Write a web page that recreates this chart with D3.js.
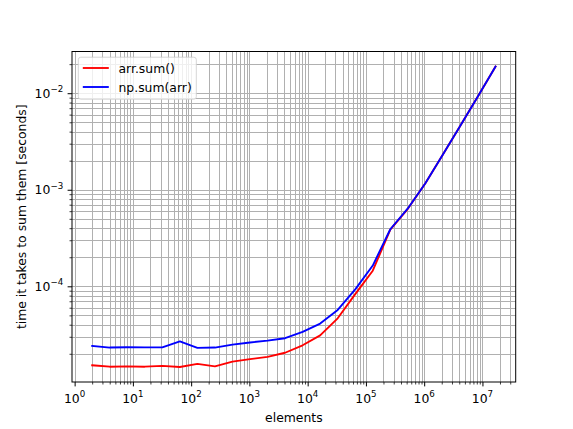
<!DOCTYPE html>
<html>
<head>
<meta charset="utf-8">
<script src="https://cdn.jsdelivr.net/npm/d3@7"></script>
<style>
  html, body { margin: 0; padding: 0; background: #fff; }
  svg { display: block; font-family: "DejaVu Sans", sans-serif; }
</style>
</head>
<body>
<svg id="chart" width="573" height="429"></svg>
<script>
// ---- data ----
const elements = [2, 4, 8, 16, 32, 64, 128, 256, 512, 1024, 2048, 4096, 8192, 16384,
  32768, 65536, 131072, 262144, 524288, 1048576, 2097152, 4194304, 8388608, 16777216];
const arrSum = [1.52e-5, 1.47e-5, 1.48e-5, 1.47e-5, 1.50e-5, 1.46e-5, 1.57e-5, 1.48e-5,
  1.66e-5, 1.76e-5, 1.86e-5, 2.05e-5, 2.45e-5, 3.10e-5, 4.66e-5, 8.3e-5, 1.45e-4,
  3.86e-4, 6.35e-4, 1.17e-3, 2.32e-3, 4.62e-3, 9.3e-3, 1.89e-2];
const npSum = [2.41e-5, 2.32e-5, 2.34e-5, 2.33e-5, 2.33e-5, 2.69e-5, 2.30e-5, 2.32e-5,
  2.49e-5, 2.62e-5, 2.74e-5, 2.90e-5, 3.37e-5, 4.11e-5, 5.69e-5, 9.3e-5, 1.64e-4,
  3.90e-4, 6.40e-4, 1.17e-3, 2.32e-3, 4.62e-3, 9.3e-3, 1.89e-2];
const seriesNames = ["arr.sum()", "np.sum(arr)"];
const seriesColors = ["#ff0000", "#0000ff"];
const xMajorExps = [0, 1, 2, 3, 4, 5, 6, 7];
const yMajorExps = [-4, -3, -2];
const xLabel = "elements";
const yLabel = "time it takes to sum them [seconds]";

// ---- layout ----
const W = 573, H = 429;
const m = { left: 72, right: 515.7, top: 51.5, bottom: 382 };
const fs = 12.4;
const svg = d3.select("#chart");

// log-space 5% margins (matplotlib autoscale)
function logDomain(vals) {
  const lo = Math.log10(d3.min(vals)), hi = Math.log10(d3.max(vals));
  const pad = (hi - lo) * 0.05;
  return [Math.pow(10, lo - pad), Math.pow(10, hi + pad)];
}
const x = d3.scaleLog().domain(logDomain(elements)).range([m.left, m.right]);
const y = d3.scaleLog().domain(logDomain(arrSum.concat(npSum))).range([m.bottom, m.top]);

function minorValues(scale) {
  const [a, b] = scale.domain();
  const out = [];
  for (let e = Math.floor(Math.log10(a)) - 1; e <= Math.ceil(Math.log10(b)); e++) {
    for (let k = 2; k <= 9; k++) {
      const v = k * Math.pow(10, e);
      if (v >= a && v <= b) out.push(v);
    }
  }
  return out;
}
const xMajor = xMajorExps.map(e => Math.pow(10, e));
const yMajor = yMajorExps.map(e => Math.pow(10, e));
const xMinor = minorValues(x), yMinor = minorValues(y);

const snap = v => Math.round(v) + 0.5;

// ---- grid ----
const grid = svg.append("g").attr("stroke", "#b0b0b0").attr("stroke-width", 1);
xMajor.concat(xMinor).forEach(v => {
  grid.append("line").attr("x1", snap(x(v))).attr("x2", snap(x(v)))
    .attr("y1", m.top).attr("y2", m.bottom);
});
yMajor.concat(yMinor).forEach(v => {
  grid.append("line").attr("y1", snap(y(v))).attr("y2", snap(y(v)))
    .attr("x1", m.left).attr("x2", m.right);
});

// ---- lines ----
const series = [arrSum, npSum];
series.forEach((vals, i) => {
  const line = d3.line().x((d, j) => x(elements[j])).y(d => y(d));
  svg.append("path").datum(vals)
    .attr("d", line)
    .attr("fill", "none")
    .attr("stroke", seriesColors[i])
    .attr("stroke-width", 1.87)
    .attr("stroke-linejoin", "round")
    .attr("stroke-linecap", "square");
});

// ---- axes ----
const xAxis = svg.append("g").attr("transform", `translate(0,${m.bottom})`);
xAxis.call(d3.axisBottom(x).tickValues(xMajor).tickSize(4.4).tickSizeOuter(0).tickPadding(4.4).tickFormat(""));
const xAxisMinor = svg.append("g").attr("transform", `translate(0,${m.bottom})`);
xAxisMinor.call(d3.axisBottom(x).tickValues(xMinor).tickSize(2.5).tickSizeOuter(0).tickFormat(""));
xAxisMinor.select(".domain").remove();
xAxisMinor.selectAll("line").attr("stroke-width", 0.75);

const yAxis = svg.append("g").attr("transform", `translate(${m.left},0)`);
yAxis.call(d3.axisLeft(y).tickValues(yMajor).tickSize(4.4).tickSizeOuter(0).tickPadding(4.4).tickFormat(""));
const yAxisMinor = svg.append("g").attr("transform", `translate(${m.left},0)`);
yAxisMinor.call(d3.axisLeft(y).tickValues(yMinor).tickSize(2.5).tickSizeOuter(0).tickFormat(""));
yAxisMinor.select(".domain").remove();
yAxisMinor.selectAll("line").attr("stroke-width", 0.75);
[xAxis, yAxis].forEach(g => g.select(".domain").remove());

// frame
svg.append("rect").attr("x", m.left).attr("y", m.top)
  .attr("width", m.right - m.left).attr("height", m.bottom - m.top)
  .attr("fill", "none").attr("stroke", "#000").attr("stroke-width", 1);

// tick labels with superscripts
function expLabel(g, e) {
  g.append("tspan").text("10");
  g.append("tspan").attr("font-size", fs * 0.7).attr("dy", -5.6)
    .text(e < 0 ? "\u2212" + Math.abs(e) : String(e));
}
xMajorExps.forEach(e => {
  const t = svg.append("text").attr("x", x(Math.pow(10, e))).attr("y", 402.7)
    .attr("text-anchor", "middle").attr("font-size", fs).attr("fill", "#000");
  expLabel(t, e);
});
yMajorExps.forEach(e => {
  const t = svg.append("text").attr("x", m.left - 8.8).attr("y", y(Math.pow(10, e)) + 4.6)
    .attr("text-anchor", "end").attr("font-size", fs).attr("fill", "#000");
  expLabel(t, e);
});

// axis labels
svg.append("text").attr("x", (m.left + m.right) / 2).attr("y", 421.5)
  .attr("text-anchor", "middle").attr("font-size", fs).text(xLabel);
svg.append("text").attr("transform", `translate(25.5,${(m.top + m.bottom) / 2}) rotate(-90)`)
  .attr("text-anchor", "middle").attr("font-size", fs).text(yLabel);

// ---- legend ----
const lg = svg.append("g");
lg.append("rect").attr("x", 78.3).attr("y", 57.2).attr("width", 118).attr("height", 42)
  .attr("rx", 2.5).attr("fill", "#fff").attr("fill-opacity", 0.8)
  .attr("stroke", "#cccccc").attr("stroke-opacity", 0.8).attr("stroke-width", 1);
seriesNames.forEach((name, i) => {
  const cy = 68 + i * 19;
  lg.append("line").attr("x1", 82.8).attr("x2", 108.8).attr("y1", cy).attr("y2", cy)
    .attr("stroke", seriesColors[i]).attr("stroke-width", 1.87);
  lg.append("text").attr("x", 118.5).attr("y", cy + 4.5).attr("font-size", fs).text(name);
});
</script>
</body>
</html>
